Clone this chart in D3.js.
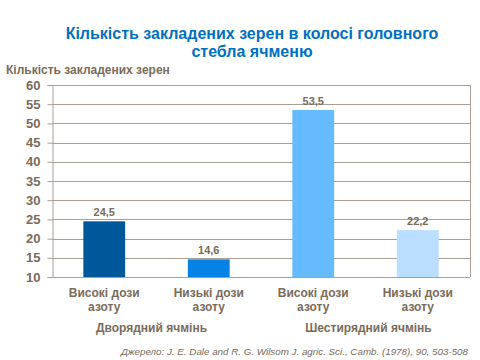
<!DOCTYPE html>
<html>
<head>
<meta charset="utf-8">
<script src="https://cdn.jsdelivr.net/npm/d3@7"></script>
<style>
  body { margin: 0; background: #fff; }
  svg { display: block; }
</style>
</head>
<body>
<svg id="chart" width="480" height="360"></svg>
<script>
const categories = ['Високі дози|азоту', 'Низькі дози|азоту', 'Високі дози|азоту', 'Низькі дози|азоту'];
const values = [24.5, 14.6, 53.5, 22.2];
const barColors = ['#00589a', '#0582e6', '#66bbff', '#badeff'];
const groups = [
  { name: 'Дворядний ячмінь', members: [0, 1] },
  { name: 'Шестирядний ячмінь', members: [2, 3] }
];
const yTicks = [10, 15, 20, 25, 30, 35, 40, 45, 50, 55, 60];

const TEXT = '#7a6b5a';
const LINE = '#a89f96';
const FONT = 'Arial, "Liberation Sans", sans-serif';

const plotLeft = 52;
const plotRight = 470;
const plotTop = 85;
const plotBottom = 277;
const groupShift = [-5, 3];

const svg = d3.select('#chart');

const x = d3.scaleBand()
  .domain(d3.range(categories.length))
  .range([plotLeft, plotRight])
  .paddingInner(0.6)
  .paddingOuter(0.3);

const y = d3.scaleLinear()
  .domain([10, 60])
  .range([plotBottom, plotTop]);

// title
svg.append('text')
  .attr('x', 252)
  .attr('y', 39)
  .attr('text-anchor', 'middle')
  .attr('fill', '#0070c0')
  .attr('font-size', 16)
  .attr('font-weight', 700)
  .attr('font-family', FONT)
  .selectAll('tspan')
  .data(['Кількість закладених зерен в колосі головного', 'стебла ячменю'])
  .join('tspan')
  .attr('x', 252)
  .attr('dy', (d, i) => i === 0 ? 0 : 18)
  .text(d => d);

svg.append('text')
  .attr('x', 6)
  .attr('y', 74)
  .attr('fill', TEXT)
  .attr('font-size', 12)
  .attr('font-weight', 700)
  .attr('font-family', FONT)
  .text('Кількість  закладених зерен');

// gridlines
svg.append('g')
  .selectAll('line')
  .data(yTicks)
  .join('line')
  .attr('x1', plotLeft)
  .attr('x2', plotRight)
  .attr('y1', d => Math.round(y(d)) + 0.5)
  .attr('y2', d => Math.round(y(d)) + 0.5)
  .attr('stroke', LINE)
  .attr('stroke-width', 1);

// frame right
svg.append('line')
  .attr('x1', plotRight + 0.5).attr('x2', plotRight + 0.5)
  .attr('y1', plotTop).attr('y2', plotBottom)
  .attr('stroke', LINE);

// y axis
const yAxis = svg.append('g')
  .attr('transform', `translate(${plotLeft + 0.5},0)`)
  .call(d3.axisLeft(y).tickValues(yTicks).tickSize(5).tickPadding(7).tickFormat(d3.format('d')));
yAxis.select('.domain').attr('stroke', LINE);
yAxis.selectAll('.tick line').attr('stroke', LINE);
yAxis.selectAll('.tick text')
  .attr('fill', TEXT)
  .attr('font-size', 13)
  .attr('font-weight', 700)
  .attr('font-family', FONT);

// bars
svg.append('g')
  .selectAll('rect')
  .data(values)
  .join('rect')
  .attr('x', (d, i) => x(i))
  .attr('y', d => y(d))
  .attr('width', x.bandwidth())
  .attr('height', d => plotBottom - y(d))
  .attr('fill', (d, i) => barColors[i]);

// value labels
svg.append('g')
  .selectAll('text')
  .data(values)
  .join('text')
  .attr('x', (d, i) => x(i) + x.bandwidth() / 2)
  .attr('y', d => y(d) - 5)
  .attr('text-anchor', 'middle')
  .attr('fill', TEXT)
  .attr('font-size', 11)
  .attr('font-weight', 700)
  .attr('font-family', FONT)
  .text(d => d3.format('.1f')(d).replace('.', ','));

// category labels
const cat = svg.append('g')
  .selectAll('text')
  .data(categories)
  .join('text')
  .attr('x', (d, i) => x(i) + x.bandwidth() / 2)
  .attr('y', 297)
  .attr('text-anchor', 'middle')
  .attr('fill', TEXT)
  .attr('font-size', 12)
  .attr('font-weight', 700)
  .attr('font-family', FONT);
cat.selectAll('tspan')
  .data((d, i) => d.split('|').map(t => ({ t, i })))
  .join('tspan')
  .attr('x', d => x(d.i) + x.bandwidth() / 2)
  .attr('dy', (d, j) => j === 0 ? 0 : 14)
  .text(d => d.t);

// group labels
svg.append('g')
  .selectAll('text')
  .data(groups)
  .join('text')
  .attr('x', (g, k) => d3.mean(g.members, i => x(i) + x.bandwidth() / 2) + groupShift[k])
  .attr('y', 332)
  .attr('text-anchor', 'middle')
  .attr('fill', TEXT)
  .attr('font-size', 12)
  .attr('font-weight', 700)
  .attr('font-family', FONT)
  .text(g => g.name);

// source
svg.append('text')
  .attr('x', 468)
  .attr('y', 355)
  .attr('text-anchor', 'end')
  .attr('fill', TEXT)
  .attr('font-size', 9.8)
  .attr('font-style', 'italic')
  .attr('font-family', FONT)
  .text('Джерело: J. E. Dale and R. G. Wilsom J. agric. Sci., Camb. (1978), 90, 503-508');
</script>
</body>
</html>
